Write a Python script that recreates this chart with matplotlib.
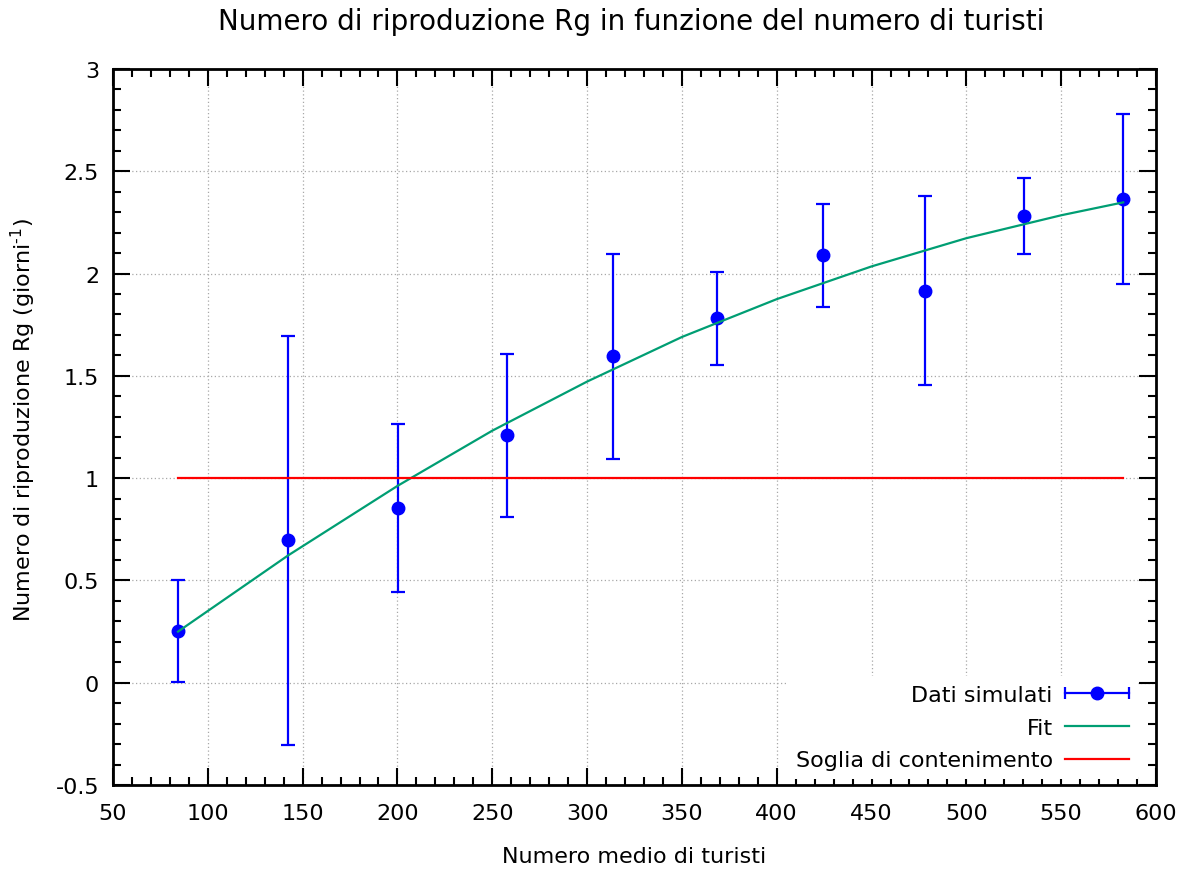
import numpy as np
import matplotlib
matplotlib.use("Agg")
import matplotlib.pyplot as plt
from matplotlib.container import ErrorbarContainer
from matplotlib.legend_handler import HandlerBase
from matplotlib.lines import Line2D
from matplotlib.ticker import MultipleLocator, FuncFormatter


# simulated Rg vs mean number of tourists
turisti = [84.3, 142.3, 200.3, 257.8, 313.7, 368.6, 424.5, 478.3, 530.5, 582.7]
rg = [0.253, 0.697, 0.854, 1.21, 1.597, 1.782, 2.09, 1.915, 2.28, 2.364]
rg_err = [0.25, 1.0, 0.413, 0.398, 0.501, 0.227, 0.252, 0.462, 0.186, 0.415]

# fitted curve, sampled along x
fit_x = [84.3, 142.3, 200.0, 250.0, 300.0, 350.0, 400.0, 450.0, 500.0, 550.0, 582.7]
fit_y = [0.25, 0.622, 0.962, 1.232, 1.472, 1.69, 1.875, 2.035, 2.173, 2.285, 2.348]

# containment threshold Rg = 1
soglia_x = [84.3, 582.7]
soglia_y = [1.0, 1.0]

BLUE = "#0000ff"
GREEN = "#009e73"
RED = "#ff0000"


class HandlerHorizErr(HandlerBase):
    """gnuplot-like key sample: horizontal bar with end caps and a dot."""

    def create_artists(self, legend, orig_handle, xdescent, ydescent,
                       width, height, fontsize, trans):
        y = height / 2 - ydescent
        x0 = -xdescent
        x1 = x0 + width
        bar = Line2D([x0, x1], [y, y], color=BLUE, lw=1.6)
        caps = Line2D([x0, x1], [y, y], ls="none", marker="|",
                      markersize=9, mew=1.6, color=BLUE)
        dot = Line2D([(x0 + x1) / 2], [y], ls="none", marker="o",
                     markersize=9, color=BLUE)
        for a in (bar, caps, dot):
            a.set_transform(trans)
        return [bar, caps, dot]


def main():
    fig = plt.figure(figsize=(11.88, 8.70), dpi=100)
    ax = fig.add_axes([113 / 1188, 1 - 786 / 870, 1043 / 1188, 716 / 870])

    err = ax.errorbar(turisti, rg, yerr=rg_err, fmt="o", color=BLUE,
                      markersize=9, elinewidth=1.6, capsize=5, capthick=1.6,
                      label="Dati simulati", zorder=3)
    fit_line, = ax.plot(fit_x, fit_y, color=GREEN, lw=1.6, label="Fit",
                        zorder=4, solid_joinstyle="round")
    soglia_line, = ax.plot(soglia_x, soglia_y, color=RED, lw=1.6,
                           label="Soglia di contenimento", zorder=5)

    ax.set_xlim(50, 600)
    ax.set_ylim(-0.5, 3)
    ax.xaxis.set_major_locator(MultipleLocator(50))
    ax.xaxis.set_minor_locator(MultipleLocator(10))
    ax.yaxis.set_major_locator(MultipleLocator(0.5))
    ax.yaxis.set_minor_locator(MultipleLocator(0.1))
    ax.yaxis.set_major_formatter(FuncFormatter(lambda v, p: f"{v:g}"))

    ax.tick_params(which="both", direction="in", top=True, right=True,
                   width=1.5, labelsize=16)
    ax.tick_params(which="major", length=12)
    ax.tick_params(which="minor", length=6)
    ax.tick_params(axis="x", pad=13)
    ax.tick_params(axis="y", pad=10)
    for s in ax.spines.values():
        s.set_linewidth(2)

    ax.grid(True, which="major", color="#a8a8a8", lw=0.9,
            linestyle=(0, (1, 2)))
    ax.set_axisbelow(True)

    leg = ax.legend(
        handles=[err, fit_line, soglia_line],
        loc="lower right", bbox_to_anchor=(0.983, 0.008),
        borderaxespad=0, borderpad=0.4, markerfirst=False,
        handlelength=2.9, handletextpad=0.55, labelspacing=0.57,
        fontsize=16, frameon=True, fancybox=False,
        handler_map={ErrorbarContainer: HandlerHorizErr()},
    )
    leg.get_frame().set_facecolor("white")
    leg.get_frame().set_edgecolor("none")
    leg.get_frame().set_alpha(1)
    for t in leg.get_texts():
        t.set_ha("right")

    fig.text(0.531, 1 - 22 / 870,
             "Numero di riproduzione Rg in funzione del numero di turisti",
             ha="center", va="center", fontsize=20)
    fig.text(634 / 1188, 1 - 857 / 870, "Numero medio di turisti",
             ha="center", va="center", fontsize=16)
    fig.text(23 / 1188, 1 - 420 / 870,
             r"Numero di riproduzione Rg (giorni$^{\text{-1}}$)",
             ha="center", va="center", rotation=90, fontsize=16)

    fig.savefig("out.png", dpi=100)
    plt.close(fig)


if __name__ == "__main__":
    main()
